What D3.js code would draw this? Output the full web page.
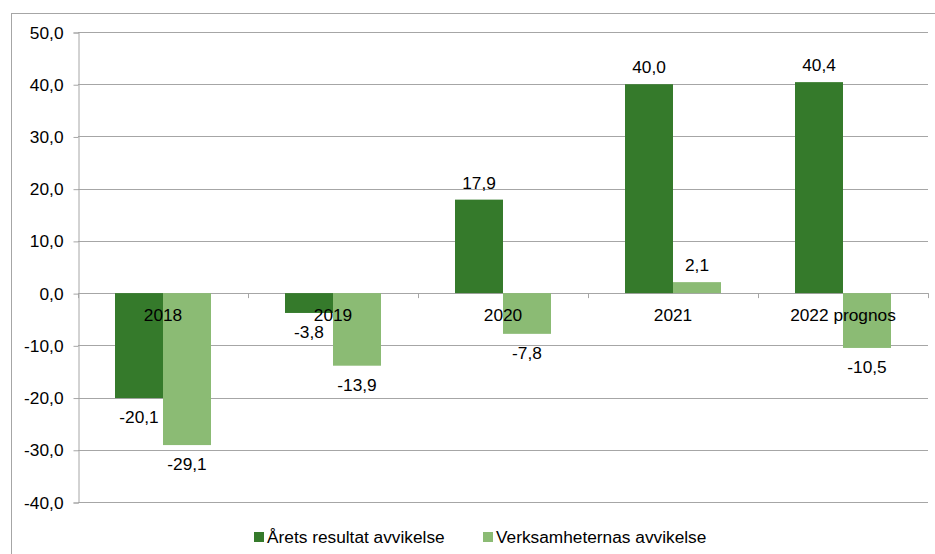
<!DOCTYPE html>
<html>
<head>
<meta charset="UTF-8">
<title></title>
<style>
  body { margin: 0; background: #fff; }
  text { font-family: "Liberation Sans", Arial, sans-serif; fill: #000; }
</style>
</head>
<body>
<script src="https://cdn.jsdelivr.net/npm/d3@7"></script>
<script>
var categories = ["2018", "2019", "2020", "2021", "2022 prognos"];
var seriesNames = ["Årets resultat avvikelse", "Verksamheternas avvikelse"];
var aretsResultat = [-20.1, -3.8, 17.9, 40.0, 40.4];
var verksamheterna = [-29.1, -13.9, -7.8, 2.1, -10.5];
var yTicks = [-40, -30, -20, -10, 0, 10, 20, 30, 40, 50];
var colors = ["#357A2B", "#8BBB74"];

var W = 935, H = 554;
var fontSize = "17.3px";
var svg = d3.select("body").append("svg")
  .attr("width", W)
  .attr("height", H);

// outer frame
svg.append("rect")
  .attr("x", 11.5).attr("y", 13.5)
  .attr("width", 940).attr("height", 600)
  .attr("fill", "none").attr("stroke", "#a6a6a6").attr("stroke-width", 1);

var plotL = 78, plotR = 928, plotT = 32, plotB = 502;

var x = d3.scaleBand().domain(categories).range([plotL, plotR]);
var y = d3.scaleLinear().domain([-40, 50]).range([plotB, plotT]);
var fmt = function(v) { return d3.format(".1f")(v).replace(".", ",").replace("−", "-"); };

// gridlines
svg.append("g").selectAll("line").data(yTicks).enter().append("line")
  .attr("x1", plotL).attr("x2", plotR)
  .attr("y1", function(d) { return Math.round(y(d)) + 0.5; })
  .attr("y2", function(d) { return Math.round(y(d)) + 0.5; })
  .attr("stroke", "#a6a6a6");

// y axis
var yAxis = svg.append("g")
  .attr("transform", "translate(" + (plotL + 0.5) + ",0.5)")
  .call(d3.axisLeft(y).tickValues(yTicks).tickSize(5).tickPadding(10).tickFormat(fmt));
yAxis.select(".domain").attr("stroke", "#a6a6a6");
yAxis.selectAll(".tick line").attr("stroke", "#a6a6a6");
yAxis.selectAll(".tick text")
  .style("font-family", "Liberation Sans, Arial, sans-serif")
  .style("font-size", fontSize).attr("fill", "#000");

// category tick marks on zero line
var bounds = categories.map(function(c) { return x(c); }).concat([plotR]);
svg.append("g").selectAll("line").data(bounds).enter().append("line")
  .attr("x1", function(d) { return Math.round(d) + 0.5; })
  .attr("x2", function(d) { return Math.round(d) + 0.5; })
  .attr("y1", y(0)).attr("y2", y(0) + 5)
  .attr("stroke", "#a6a6a6");

var barW = 48;
var data = [aretsResultat, verksamheterna];

data.forEach(function(series, si) {
  var g = svg.append("g");
  g.selectAll("rect").data(series).enter().append("rect")
    .attr("x", function(d, i) { return x(categories[i]) + x.bandwidth() / 2 - barW + si * barW; })
    .attr("y", function(d) { return y(Math.max(0, d)); })
    .attr("width", barW)
    .attr("height", function(d) { return Math.abs(y(d) - y(0)); })
    .attr("fill", colors[si]);
});

// category labels
svg.append("g").selectAll("text").data(categories).enter().append("text")
  .attr("x", function(d) { return x(d) + x.bandwidth() / 2; })
  .attr("y", y(0) + 28)
  .attr("text-anchor", "middle")
  .style("font-size", fontSize)
  .text(function(d) { return d; });

// data labels
data.forEach(function(series, si) {
  svg.append("g").selectAll("text").data(series).enter().append("text")
    .attr("x", function(d, i) { return x(categories[i]) + x.bandwidth() / 2 - barW / 2 + si * barW; })
    .attr("y", function(d) { return d >= 0 ? y(d) - 11 : y(d) + 25; })
    .attr("text-anchor", "middle")
    .style("font-size", fontSize)
    .text(function(d) { return fmt(d); });
});

// legend
var legend = svg.append("g");
var legX = [254, 483];
seriesNames.forEach(function(n, i) {
  legend.append("rect")
    .attr("x", legX[i]).attr("y", 532)
    .attr("width", 10).attr("height", 10)
    .attr("fill", colors[i]);
  legend.append("text")
    .attr("x", legX[i] + 13).attr("y", 543)
    .style("font-size", fontSize)
    .text(n);
});
</script>
</body>
</html>
